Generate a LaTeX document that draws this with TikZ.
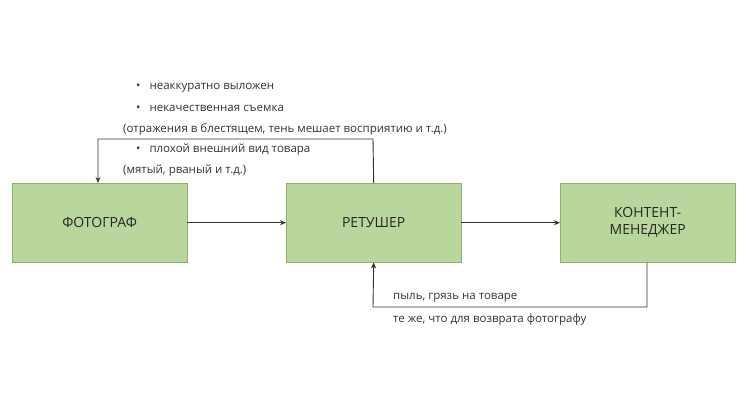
\documentclass[tikz,border=0pt]{standalone}
\usepackage{fontspec}
\setmainfont{Open Sans}
\usetikzlibrary{arrows.meta}
\definecolor{boxfill}{HTML}{B9D79C}
\definecolor{boxline}{HTML}{8DB36B}
\begin{document}
\begin{tikzpicture}[x=1pt,y=-1pt,
  box/.style={draw=boxline,fill=boxfill,minimum width=175pt,minimum height=79pt,anchor=north west,inner sep=0pt,font=\fontsize{14}{17}\selectfont,align=center,text=black!85},
  lbl/.style={anchor=west,font=\fontsize{11.5}{14}\selectfont,text=black!80,inner sep=0pt},
  conn/.style={draw=black!80,line width=0.9pt,-{Stealth[length=6pt,width=5pt]}}]
\useasboundingbox (0,0) rectangle (747,420);
\node[box] (f) at (12,183) {ФОТОГРАФ};
\node[box] (r) at (286,183) {РЕТУШЕР};
\node[box] (k) at (560,183) {КОНТЕНТ-\\МЕНЕДЖЕР};
\draw[conn] (f.east) -- (r.west);
\draw[conn] (r.east) -- (k.west);
\coordinate (a1) at (373,139);
\coordinate (a2) at (98,139);
\draw[conn] (r.north) -- (a1) -- (a2) -- (f.north -| a2);
\coordinate (b1) at (647,307);
\coordinate (b2) at (373,307);
\draw[conn] (k.south -| b1) -- (b1) -- (b2) -- (r.south);
\node[lbl] (t1) at (136,88) {•\hspace{9pt}неаккуратно выложен};
\node[lbl] (t2) at (136,108) {•\hspace{9pt}некачественная съемка};
\node[lbl] (t3) at (123,129) {(отражения в блестящем, тень мешает восприятию и т.д.)};
\node[lbl] (t4) at (136,150) {•\hspace{9pt}плохой внешний вид товара};
\node[lbl] (t5) at (123,171) {(мятый, рваный и т.д.)};
\node[lbl] (u1) at (393,298) {пыль, грязь на товаре};
\node[lbl] (u2) at (393,320) {те же, что для возврата фотографу};
\end{tikzpicture}
\end{document}
